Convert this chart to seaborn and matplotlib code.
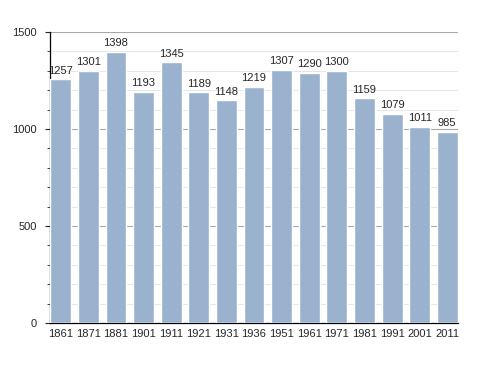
import matplotlib
matplotlib.use("Agg")
import matplotlib.pyplot as plt
import seaborn as sns
from matplotlib.ticker import MultipleLocator

years = ["1861", "1871", "1881", "1901", "1911", "1921", "1931", "1936",
         "1951", "1961", "1971", "1981", "1991", "2001", "2011"]
population = [1257, 1301, 1398, 1193, 1345, 1189, 1148, 1219,
              1307, 1290, 1300, 1159, 1079, 1011, 985]

sns.set_style("white")
plt.rcParams['font.family'] = ['Liberation Sans', 'DejaVu Sans']

fig = plt.figure(figsize=(4.88, 3.73), dpi=100)
ax = fig.add_axes([0.1025, 0.134, 0.836, 0.78])

sns.barplot(x=years, y=population, color="#9ab2ce", saturation=1,
            width=0.76, ax=ax, zorder=3)

for i, v in enumerate(population):
    ax.text(i, v + 18, str(v), ha="center", va="bottom", fontsize=8)

ax.set_ylim(0, 1500)
ax.set_xlim(-0.39, 14.39)
ax.yaxis.set_major_locator(MultipleLocator(500))
ax.yaxis.set_minor_locator(MultipleLocator(100))
ax.grid(axis="y", which="major", color="#a8a8a8", linewidth=0.8, zorder=0)
ax.grid(axis="y", which="minor", color="#e2e2e2", linewidth=0.6, zorder=0)
ax.set_axisbelow(True)

for s in ["top", "right"]:
    ax.spines[s].set_visible(False)
for s in ["left", "bottom"]:
    ax.spines[s].set_color("black")
    ax.spines[s].set_linewidth(0.9)

ax.tick_params(axis="y", which="major", left=True, length=3.5, width=0.8,
               labelsize=8, pad=6)
ax.tick_params(axis="y", which="minor", left=True, length=2.5, width=0.6)
ax.tick_params(axis="x", bottom=False, labelsize=8, pad=0.5)

fig.savefig("out.png", dpi=100)
